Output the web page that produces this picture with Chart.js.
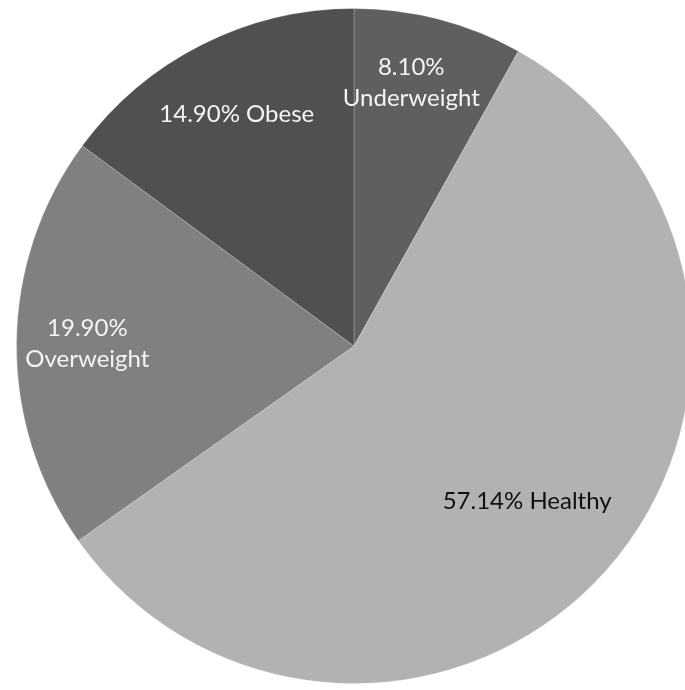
<!DOCTYPE html>
<html>
<head>
<meta charset="utf-8">
<script src="https://cdn.jsdelivr.net/npm/chart.js@4"></script>
<style>
  html, body { margin: 0; padding: 0; background: #ffffff; overflow: hidden; }
  #wrap { width: 700px; height: 690px; }
</style>
</head>
<body>
<div id="wrap"><canvas id="pie" width="700" height="690"></canvas></div>
<script>
// BMI categories and their shares (%)
const categories = ['Underweight', 'Healthy', 'Overweight', 'Obese'];
const shares = [8.10, 57.14, 19.90, 14.90];
const shareLabels = ['8.10%', '57.14%', '19.90%', '14.90%'];

// Slice styling
const sliceColors = ['#5f5f5f', '#b2b2b2', '#808080', '#505050'];
const textColors = ['#f4f4f4', '#111111', '#f4f4f4', '#f4f4f4'];
// Label line layout: split into two lines or kept on one
const twoLine = [true, false, true, false];
// Where each label sits: fraction of the radius, and fraction of the slice's sweep
const labelRadius = [0.80, 0.69, 0.79, 0.77];
const labelSweep = [0.42, 0.5, 0.5, 0.5];

const sliceLabels = {
  id: 'sliceLabels',
  afterDatasetsDraw(chart) {
    const ctx = chart.ctx;
    const meta = chart.getDatasetMeta(0);
    ctx.save();
    ctx.font = '24px Lato, "Open Sans", sans-serif';
    ctx.textAlign = 'center';
    ctx.textBaseline = 'middle';
    meta.data.forEach((arc, i) => {
      const p = arc.getProps(['x', 'y', 'startAngle', 'endAngle', 'outerRadius'], true);
      const ang = p.startAngle + (p.endAngle - p.startAngle) * labelSweep[i];
      const r = p.outerRadius * labelRadius[i];
      const cx = p.x + Math.cos(ang) * r;
      const cy = p.y + Math.sin(ang) * r;
      ctx.fillStyle = textColors[i];
      if (twoLine[i]) {
        ctx.fillText(shareLabels[i], cx, cy - 15);
        ctx.fillText(categories[i], cx, cy + 16);
      } else {
        ctx.fillText(shareLabels[i] + ' ' + categories[i], cx, cy);
      }
    });
    ctx.restore();
  }
};

new Chart(document.getElementById('pie'), {
  type: 'pie',
  data: {
    labels: categories,
    datasets: [{
      data: shares,
      backgroundColor: sliceColors,
      borderColor: 'rgba(255,255,255,0.22)',
      borderWidth: 1
    }]
  },
  options: {
    responsive: false,
    animation: false,
    layout: { padding: { left: 16, right: 8, top: 8, bottom: 6 } },
    plugins: {
      legend: { display: false },
      tooltip: { enabled: false }
    }
  },
  plugins: [sliceLabels]
});
</script>
</body>
</html>
